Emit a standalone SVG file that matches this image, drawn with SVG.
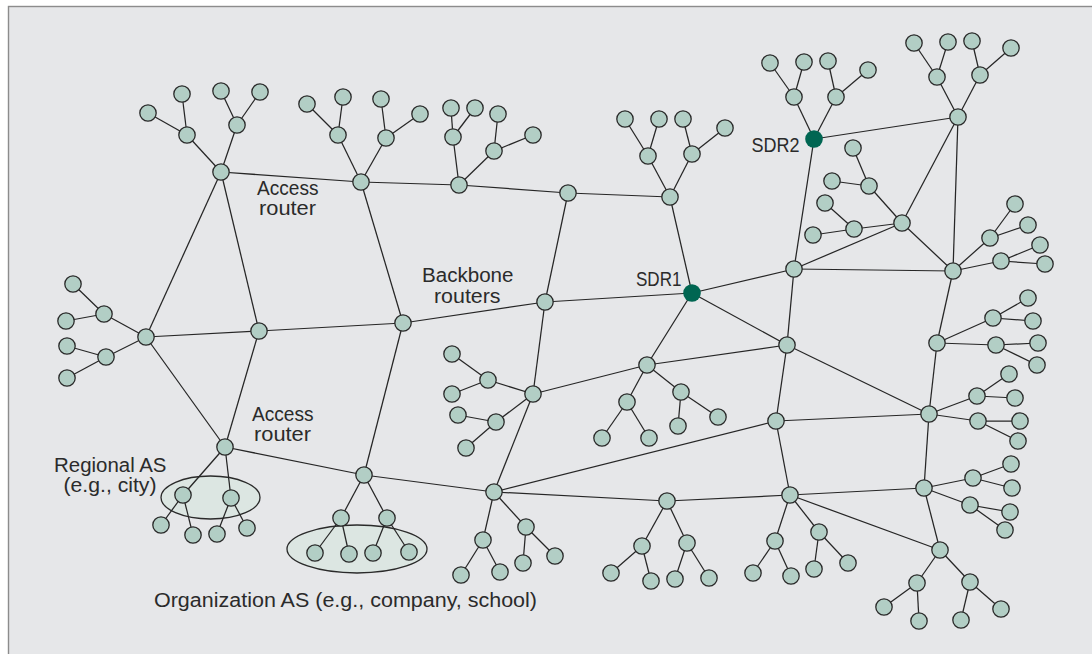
<svg xmlns="http://www.w3.org/2000/svg" width="1092" height="654" viewBox="0 0 1092 654">
<style>
.bg{fill:#e6e7e9;stroke:#8c8c8c;stroke-width:1.4}
.as{fill:#dce6e2;stroke:#2a2a2a;stroke-width:1.3}
.e line{stroke:#262626;stroke-width:1.25}
.n{fill:#b2cec5;stroke:#2a2a2a;stroke-width:1.3}
.s{fill:#006652;stroke:none}
text{font-family:"Liberation Sans",Arial,sans-serif;font-size:19.5px;fill:#2b2b2b}
.m{text-anchor:middle}
.r{text-anchor:end}
</style>
<rect class="bg" x="8.5" y="6.5" width="1100" height="700"/>
<g id="regions">
<ellipse id="regional-as" class="as" cx="210.5" cy="497.5" rx="49.5" ry="21.5"/>
<ellipse id="organization-as" class="as" cx="357" cy="549" rx="70" ry="24"/>
</g>
<g id="connectors" class="e">
<line x1="221" y1="172" x2="361" y2="182"/>
<line x1="361" y1="182" x2="459" y2="185"/>
<line x1="459" y1="185" x2="568" y2="193"/>
<line x1="568" y1="193" x2="670" y2="197"/>
<line x1="670" y1="197" x2="692" y2="293"/>
<line x1="221" y1="172" x2="146" y2="337"/>
<line x1="221" y1="172" x2="259" y2="331"/>
<line x1="146" y1="337" x2="259" y2="331"/>
<line x1="259" y1="331" x2="403" y2="323"/>
<line x1="403" y1="323" x2="545" y2="302"/>
<line x1="545" y1="302" x2="692" y2="293"/>
<line x1="361" y1="182" x2="403" y2="323"/>
<line x1="568" y1="193" x2="545" y2="302"/>
<line x1="146" y1="337" x2="225" y2="447"/>
<line x1="259" y1="331" x2="225" y2="447"/>
<line x1="225" y1="447" x2="364" y2="475"/>
<line x1="403" y1="323" x2="364" y2="475"/>
<line x1="364" y1="475" x2="494" y2="492"/>
<line x1="545" y1="302" x2="533" y2="394"/>
<line x1="533" y1="394" x2="494" y2="492"/>
<line x1="533" y1="394" x2="647" y2="365"/>
<line x1="647" y1="365" x2="692" y2="293"/>
<line x1="647" y1="365" x2="787" y2="345"/>
<line x1="494" y1="492" x2="776" y2="421"/>
<line x1="494" y1="492" x2="667" y2="501"/>
<line x1="667" y1="501" x2="790" y2="495"/>
<line x1="692" y1="293" x2="794" y2="269"/>
<line x1="692" y1="293" x2="787" y2="345"/>
<line x1="814" y1="139" x2="958" y2="117"/>
<line x1="814" y1="139" x2="794" y2="269"/>
<line x1="958" y1="117" x2="902" y2="223"/>
<line x1="958" y1="117" x2="953" y2="271"/>
<line x1="902" y1="223" x2="794" y2="269"/>
<line x1="902" y1="223" x2="953" y2="271"/>
<line x1="794" y1="269" x2="953" y2="271"/>
<line x1="794" y1="269" x2="787" y2="345"/>
<line x1="953" y1="271" x2="937" y2="343"/>
<line x1="787" y1="345" x2="776" y2="421"/>
<line x1="787" y1="345" x2="929" y2="414"/>
<line x1="937" y1="343" x2="929" y2="414"/>
<line x1="776" y1="421" x2="929" y2="414"/>
<line x1="776" y1="421" x2="790" y2="495"/>
<line x1="929" y1="414" x2="924" y2="488"/>
<line x1="790" y1="495" x2="924" y2="488"/>
<line x1="790" y1="495" x2="940" y2="550"/>
<line x1="924" y1="488" x2="940" y2="550"/>
<line x1="221" y1="172" x2="187" y2="135"/><line x1="187" y1="135" x2="148" y2="113"/><line x1="187" y1="135" x2="182" y2="94"/>
<line x1="221" y1="172" x2="237" y2="125"/><line x1="237" y1="125" x2="221" y2="91"/><line x1="237" y1="125" x2="260" y2="92"/>
<line x1="361" y1="182" x2="338" y2="135"/><line x1="338" y1="135" x2="307" y2="104"/><line x1="338" y1="135" x2="343" y2="97"/>
<line x1="361" y1="182" x2="386" y2="138"/><line x1="386" y1="138" x2="381" y2="99"/><line x1="386" y1="138" x2="420" y2="114"/>
<line x1="459" y1="185" x2="453" y2="137"/><line x1="453" y1="137" x2="451" y2="108"/><line x1="453" y1="137" x2="475" y2="108"/>
<line x1="459" y1="185" x2="494" y2="151"/><line x1="494" y1="151" x2="498" y2="114"/><line x1="494" y1="151" x2="533" y2="135"/>
<line x1="670" y1="197" x2="648" y2="156"/><line x1="648" y1="156" x2="625" y2="119"/><line x1="648" y1="156" x2="659" y2="119"/>
<line x1="670" y1="197" x2="692" y2="154"/><line x1="692" y1="154" x2="683" y2="119"/><line x1="692" y1="154" x2="725" y2="128"/>
<line x1="146" y1="337" x2="104" y2="314"/><line x1="104" y1="314" x2="73" y2="284"/><line x1="104" y1="314" x2="66" y2="321"/>
<line x1="146" y1="337" x2="106" y2="357"/><line x1="106" y1="357" x2="67" y2="346"/><line x1="106" y1="357" x2="67" y2="378"/>
<line x1="225" y1="447" x2="183" y2="495"/><line x1="183" y1="495" x2="161" y2="525"/><line x1="183" y1="495" x2="193" y2="535"/>
<line x1="225" y1="447" x2="231" y2="498"/><line x1="231" y1="498" x2="217" y2="534"/><line x1="231" y1="498" x2="247" y2="528"/>
<line x1="364" y1="475" x2="341" y2="518"/><line x1="341" y1="518" x2="315" y2="553"/><line x1="341" y1="518" x2="349" y2="554"/>
<line x1="364" y1="475" x2="387" y2="518"/><line x1="387" y1="518" x2="373" y2="553"/><line x1="387" y1="518" x2="409" y2="552"/>
<line x1="533" y1="394" x2="488" y2="380"/><line x1="488" y1="380" x2="452" y2="354"/><line x1="488" y1="380" x2="452" y2="394"/>
<line x1="533" y1="394" x2="496" y2="422"/><line x1="496" y1="422" x2="458" y2="415"/><line x1="496" y1="422" x2="466" y2="448"/>
<line x1="647" y1="365" x2="627" y2="402"/><line x1="627" y1="402" x2="602" y2="438"/><line x1="627" y1="402" x2="649" y2="438"/>
<line x1="647" y1="365" x2="681" y2="392"/><line x1="681" y1="392" x2="678" y2="426"/><line x1="681" y1="392" x2="718" y2="417"/>
<line x1="494" y1="492" x2="483" y2="540"/><line x1="483" y1="540" x2="461" y2="575"/><line x1="483" y1="540" x2="500" y2="572"/>
<line x1="494" y1="492" x2="526" y2="527"/><line x1="526" y1="527" x2="523" y2="563"/><line x1="526" y1="527" x2="555" y2="556"/>
<line x1="667" y1="501" x2="642" y2="546"/><line x1="642" y1="546" x2="611" y2="573"/><line x1="642" y1="546" x2="651" y2="581"/>
<line x1="667" y1="501" x2="687" y2="543"/><line x1="687" y1="543" x2="675" y2="579"/><line x1="687" y1="543" x2="709" y2="578"/>
<line x1="814" y1="139" x2="794" y2="97"/><line x1="794" y1="97" x2="770" y2="63"/><line x1="794" y1="97" x2="804" y2="62"/>
<line x1="814" y1="139" x2="836" y2="97"/><line x1="836" y1="97" x2="828" y2="61"/><line x1="836" y1="97" x2="868" y2="70"/>
<line x1="958" y1="117" x2="937" y2="77"/><line x1="937" y1="77" x2="914" y2="43"/><line x1="937" y1="77" x2="948" y2="42"/>
<line x1="958" y1="117" x2="980" y2="75"/><line x1="980" y1="75" x2="972" y2="41"/><line x1="980" y1="75" x2="1011" y2="48"/>
<line x1="902" y1="223" x2="869" y2="186"/><line x1="869" y1="186" x2="853" y2="148"/><line x1="869" y1="186" x2="832" y2="181"/>
<line x1="902" y1="223" x2="854" y2="229"/><line x1="854" y1="229" x2="825" y2="203"/><line x1="854" y1="229" x2="813" y2="235"/>
<line x1="953" y1="271" x2="990" y2="238"/><line x1="990" y1="238" x2="1015" y2="204"/><line x1="990" y1="238" x2="1028" y2="225"/>
<line x1="953" y1="271" x2="1001" y2="261"/><line x1="1001" y1="261" x2="1040" y2="245"/><line x1="1001" y1="261" x2="1045" y2="264"/>
<line x1="937" y1="343" x2="993" y2="318"/><line x1="993" y1="318" x2="1028" y2="298"/><line x1="993" y1="318" x2="1033" y2="321"/>
<line x1="937" y1="343" x2="996" y2="345"/><line x1="996" y1="345" x2="1038" y2="343"/><line x1="996" y1="345" x2="1037" y2="365"/>
<line x1="929" y1="414" x2="977" y2="396"/><line x1="977" y1="396" x2="1009" y2="374"/><line x1="977" y1="396" x2="1015" y2="398"/>
<line x1="929" y1="414" x2="978" y2="421"/><line x1="978" y1="421" x2="1020" y2="421"/><line x1="978" y1="421" x2="1018" y2="441"/>
<line x1="924" y1="488" x2="973" y2="478"/><line x1="973" y1="478" x2="1011" y2="464"/><line x1="973" y1="478" x2="1012" y2="488"/>
<line x1="924" y1="488" x2="970" y2="505"/><line x1="970" y1="505" x2="1010" y2="512"/><line x1="970" y1="505" x2="1005" y2="530"/>
<line x1="790" y1="495" x2="775" y2="541"/><line x1="775" y1="541" x2="753" y2="573"/><line x1="775" y1="541" x2="791" y2="576"/>
<line x1="790" y1="495" x2="819" y2="532"/><line x1="819" y1="532" x2="814" y2="569"/><line x1="819" y1="532" x2="848" y2="563"/>
<line x1="940" y1="550" x2="917" y2="583"/><line x1="917" y1="583" x2="884" y2="607"/><line x1="917" y1="583" x2="919" y2="621"/>
<line x1="940" y1="550" x2="970" y2="582"/><line x1="970" y1="582" x2="961" y2="620"/><line x1="970" y1="582" x2="1001" y2="609"/>
</g>
<g id="nodes">
<g id="access-router-1"><circle class="n" cx="221" cy="172" r="8.2"/></g>
<g id="bb-t2"><circle class="n" cx="361" cy="182" r="8.2"/></g>
<g id="bb-t3"><circle class="n" cx="459" cy="185" r="8.2"/></g>
<g id="bb-t4"><circle class="n" cx="568" cy="193" r="8.2"/></g>
<g id="bb-t5"><circle class="n" cx="670" cy="197" r="8.2"/></g>
<g id="sdr1"><circle class="s" cx="692" cy="293" r="8.8"/></g>
<g id="bb-l"><circle class="n" cx="146" cy="337" r="8.2"/></g>
<g id="bb-2"><circle class="n" cx="259" cy="331" r="8.2"/></g>
<g id="bb-3"><circle class="n" cx="403" cy="323" r="8.2"/></g>
<g id="bb-4"><circle class="n" cx="545" cy="302" r="8.2"/></g>
<g id="access-router-2"><circle class="n" cx="225" cy="447" r="8.2"/></g>
<g id="access-router-3"><circle class="n" cx="364" cy="475" r="8.2"/></g>
<g id="bb-m1"><circle class="n" cx="533" cy="394" r="8.2"/></g>
<g id="bb-m2"><circle class="n" cx="647" cy="365" r="8.2"/></g>
<g id="bb-l1"><circle class="n" cx="494" cy="492" r="8.2"/></g>
<g id="bb-l2"><circle class="n" cx="667" cy="501" r="8.2"/></g>
<g id="sdr2"><circle class="s" cx="814" cy="139" r="8.8"/></g>
<g id="bb-r1"><circle class="n" cx="958" cy="117" r="8.2"/></g>
<g id="bb-r2"><circle class="n" cx="902" cy="223" r="8.2"/></g>
<g id="bb-r3"><circle class="n" cx="794" cy="269" r="8.2"/></g>
<g id="bb-r4"><circle class="n" cx="953" cy="271" r="8.2"/></g>
<g id="bb-r5"><circle class="n" cx="787" cy="345" r="8.2"/></g>
<g id="bb-r6"><circle class="n" cx="937" cy="343" r="8.2"/></g>
<g id="bb-r7"><circle class="n" cx="776" cy="421" r="8.2"/></g>
<g id="bb-r8"><circle class="n" cx="929" cy="414" r="8.2"/></g>
<g id="bb-r9"><circle class="n" cx="790" cy="495" r="8.2"/></g>
<g id="bb-r10"><circle class="n" cx="924" cy="488" r="8.2"/></g>
<g id="bb-r11"><circle class="n" cx="940" cy="550" r="8.2"/></g>
<g id="t-a1"><circle class="n" cx="187" cy="135" r="8.2"/><circle class="n" cx="148" cy="113" r="8.2"/><circle class="n" cx="182" cy="94" r="8.2"/><circle class="n" cx="237" cy="125" r="8.2"/><circle class="n" cx="221" cy="91" r="8.2"/><circle class="n" cx="260" cy="92" r="8.2"/></g>
<g id="t-t2"><circle class="n" cx="338" cy="135" r="8.2"/><circle class="n" cx="307" cy="104" r="8.2"/><circle class="n" cx="343" cy="97" r="8.2"/><circle class="n" cx="386" cy="138" r="8.2"/><circle class="n" cx="381" cy="99" r="8.2"/><circle class="n" cx="420" cy="114" r="8.2"/></g>
<g id="t-t3"><circle class="n" cx="453" cy="137" r="8.2"/><circle class="n" cx="451" cy="108" r="8.2"/><circle class="n" cx="475" cy="108" r="8.2"/><circle class="n" cx="494" cy="151" r="8.2"/><circle class="n" cx="498" cy="114" r="8.2"/><circle class="n" cx="533" cy="135" r="8.2"/></g>
<g id="t-t5"><circle class="n" cx="648" cy="156" r="8.2"/><circle class="n" cx="625" cy="119" r="8.2"/><circle class="n" cx="659" cy="119" r="8.2"/><circle class="n" cx="692" cy="154" r="8.2"/><circle class="n" cx="683" cy="119" r="8.2"/><circle class="n" cx="725" cy="128" r="8.2"/></g>
<g id="t-bl"><circle class="n" cx="104" cy="314" r="8.2"/><circle class="n" cx="73" cy="284" r="8.2"/><circle class="n" cx="66" cy="321" r="8.2"/><circle class="n" cx="106" cy="357" r="8.2"/><circle class="n" cx="67" cy="346" r="8.2"/><circle class="n" cx="67" cy="378" r="8.2"/></g>
<g id="t-a2"><circle class="n" cx="183" cy="495" r="8.2"/><circle class="n" cx="161" cy="525" r="8.2"/><circle class="n" cx="193" cy="535" r="8.2"/><circle class="n" cx="231" cy="498" r="8.2"/><circle class="n" cx="217" cy="534" r="8.2"/><circle class="n" cx="247" cy="528" r="8.2"/></g>
<g id="t-a3"><circle class="n" cx="341" cy="518" r="8.2"/><circle class="n" cx="315" cy="553" r="8.2"/><circle class="n" cx="349" cy="554" r="8.2"/><circle class="n" cx="387" cy="518" r="8.2"/><circle class="n" cx="373" cy="553" r="8.2"/><circle class="n" cx="409" cy="552" r="8.2"/></g>
<g id="t-m1"><circle class="n" cx="488" cy="380" r="8.2"/><circle class="n" cx="452" cy="354" r="8.2"/><circle class="n" cx="452" cy="394" r="8.2"/><circle class="n" cx="496" cy="422" r="8.2"/><circle class="n" cx="458" cy="415" r="8.2"/><circle class="n" cx="466" cy="448" r="8.2"/></g>
<g id="t-m2"><circle class="n" cx="627" cy="402" r="8.2"/><circle class="n" cx="602" cy="438" r="8.2"/><circle class="n" cx="649" cy="438" r="8.2"/><circle class="n" cx="681" cy="392" r="8.2"/><circle class="n" cx="678" cy="426" r="8.2"/><circle class="n" cx="718" cy="417" r="8.2"/></g>
<g id="t-l1"><circle class="n" cx="483" cy="540" r="8.2"/><circle class="n" cx="461" cy="575" r="8.2"/><circle class="n" cx="500" cy="572" r="8.2"/><circle class="n" cx="526" cy="527" r="8.2"/><circle class="n" cx="523" cy="563" r="8.2"/><circle class="n" cx="555" cy="556" r="8.2"/></g>
<g id="t-l2"><circle class="n" cx="642" cy="546" r="8.2"/><circle class="n" cx="611" cy="573" r="8.2"/><circle class="n" cx="651" cy="581" r="8.2"/><circle class="n" cx="687" cy="543" r="8.2"/><circle class="n" cx="675" cy="579" r="8.2"/><circle class="n" cx="709" cy="578" r="8.2"/></g>
<g id="t-sdr2"><circle class="n" cx="794" cy="97" r="8.2"/><circle class="n" cx="770" cy="63" r="8.2"/><circle class="n" cx="804" cy="62" r="8.2"/><circle class="n" cx="836" cy="97" r="8.2"/><circle class="n" cx="828" cy="61" r="8.2"/><circle class="n" cx="868" cy="70" r="8.2"/></g>
<g id="t-r1"><circle class="n" cx="937" cy="77" r="8.2"/><circle class="n" cx="914" cy="43" r="8.2"/><circle class="n" cx="948" cy="42" r="8.2"/><circle class="n" cx="980" cy="75" r="8.2"/><circle class="n" cx="972" cy="41" r="8.2"/><circle class="n" cx="1011" cy="48" r="8.2"/></g>
<g id="t-r2"><circle class="n" cx="869" cy="186" r="8.2"/><circle class="n" cx="853" cy="148" r="8.2"/><circle class="n" cx="832" cy="181" r="8.2"/><circle class="n" cx="854" cy="229" r="8.2"/><circle class="n" cx="825" cy="203" r="8.2"/><circle class="n" cx="813" cy="235" r="8.2"/></g>
<g id="t-r4"><circle class="n" cx="990" cy="238" r="8.2"/><circle class="n" cx="1015" cy="204" r="8.2"/><circle class="n" cx="1028" cy="225" r="8.2"/><circle class="n" cx="1001" cy="261" r="8.2"/><circle class="n" cx="1040" cy="245" r="8.2"/><circle class="n" cx="1045" cy="264" r="8.2"/></g>
<g id="t-r6"><circle class="n" cx="993" cy="318" r="8.2"/><circle class="n" cx="1028" cy="298" r="8.2"/><circle class="n" cx="1033" cy="321" r="8.2"/><circle class="n" cx="996" cy="345" r="8.2"/><circle class="n" cx="1038" cy="343" r="8.2"/><circle class="n" cx="1037" cy="365" r="8.2"/></g>
<g id="t-r8"><circle class="n" cx="977" cy="396" r="8.2"/><circle class="n" cx="1009" cy="374" r="8.2"/><circle class="n" cx="1015" cy="398" r="8.2"/><circle class="n" cx="978" cy="421" r="8.2"/><circle class="n" cx="1020" cy="421" r="8.2"/><circle class="n" cx="1018" cy="441" r="8.2"/></g>
<g id="t-r10"><circle class="n" cx="973" cy="478" r="8.2"/><circle class="n" cx="1011" cy="464" r="8.2"/><circle class="n" cx="1012" cy="488" r="8.2"/><circle class="n" cx="970" cy="505" r="8.2"/><circle class="n" cx="1010" cy="512" r="8.2"/><circle class="n" cx="1005" cy="530" r="8.2"/></g>
<g id="t-r9"><circle class="n" cx="775" cy="541" r="8.2"/><circle class="n" cx="753" cy="573" r="8.2"/><circle class="n" cx="791" cy="576" r="8.2"/><circle class="n" cx="819" cy="532" r="8.2"/><circle class="n" cx="814" cy="569" r="8.2"/><circle class="n" cx="848" cy="563" r="8.2"/></g>
<g id="t-r11"><circle class="n" cx="917" cy="583" r="8.2"/><circle class="n" cx="884" cy="607" r="8.2"/><circle class="n" cx="919" cy="621" r="8.2"/><circle class="n" cx="970" cy="582" r="8.2"/><circle class="n" cx="961" cy="620" r="8.2"/><circle class="n" cx="1001" cy="609" r="8.2"/></g>
</g>
<g id="labels">
<text x="257" y="195" textLength="61.5" lengthAdjust="spacingAndGlyphs">Access</text>
<text x="259" y="215" textLength="57" lengthAdjust="spacingAndGlyphs">router</text>
<text x="252" y="421" textLength="61.5" lengthAdjust="spacingAndGlyphs">Access</text>
<text x="254" y="441" textLength="57" lengthAdjust="spacingAndGlyphs">router</text>
<text x="422" y="282" textLength="91.5" lengthAdjust="spacingAndGlyphs">Backbone</text>
<text x="434" y="302.5" textLength="66.5" lengthAdjust="spacingAndGlyphs">routers</text>
<text x="636" y="286" textLength="45.5" lengthAdjust="spacingAndGlyphs">SDR1</text>
<text x="751.5" y="152" textLength="48" lengthAdjust="spacingAndGlyphs">SDR2</text>
<text x="54" y="472" textLength="112.5" lengthAdjust="spacingAndGlyphs">Regional AS</text>
<text x="63.5" y="492" textLength="93" lengthAdjust="spacingAndGlyphs">(e.g., city)</text>
<text x="154" y="607" textLength="383" lengthAdjust="spacingAndGlyphs">Organization AS (e.g., company, school)</text>
</g>
</svg>
